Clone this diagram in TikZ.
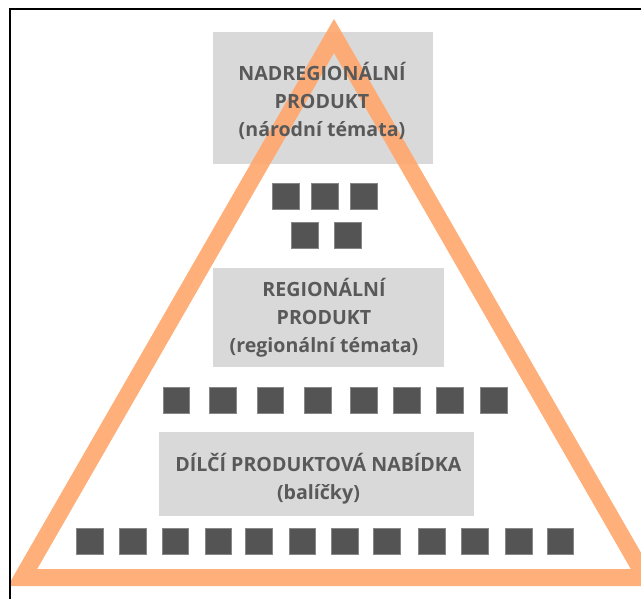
\documentclass[tikz,border=0pt]{standalone}
\usepackage{fontspec}
\setmainfont{Open Sans}
\definecolor{boxgray}{HTML}{D9D9D9}
\definecolor{txtgray}{HTML}{595959}
\definecolor{sqgray}{HTML}{545454}
\definecolor{tri}{HTML}{FFA86F}
\tikzset{
  lvlbox/.style={fill=boxgray, draw=none},
  lvltext/.style={text=txtgray, font=\bfseries\fontsize{19.6}{28}\selectfont, align=center, inner sep=0pt},
  sq/.style={fill=sqgray, draw=sqgray!70!white, line width=0.4pt, minimum size=26.5pt, inner sep=0pt, anchor=north west},
}
\begin{document}
\begin{tikzpicture}[x=1pt,y=-1pt]
\useasboundingbox (0,0) rectangle (641,599);
% frame
\draw[line width=2pt, black] (10,599) -- (10,9) -- (641,9);
% gray boxes
\fill[lvlbox] (213,32) rectangle (433,164);
\fill[lvlbox] (213,268) rectangle (444,367);
\fill[lvlbox] (159,432) rectangle (474,516);
% triangle
\begin{scope}
\clip (11,10) rectangle (641,599);
\draw[tri, line width=17pt, line join=miter, opacity=0.92] (22.5,577.5) -- (334,36) -- (645.5,577.5) -- cycle;
\end{scope}
% texts
\node[lvltext] (t1) at (322,100.5) {NADREGIONÁLNÍ\\PRODUKT\\(národní témata)};
\node[lvltext] (t2) at (324,317.5) {REGIONÁLNÍ\\PRODUKT\\(regionální témata)};
\node[lvltext] (t3) at (318.5,478.5) {DÍLČÍ PRODUKTOVÁ NABÍDKA\\(balíčky)};
% squares top
\foreach \x [count=\i] in {272.3,311,350} \node[sq] (a\i) at (\x,182.7) {};
\foreach \x [count=\i] in {291,334.3} \node[sq] (b\i) at (\x,221.7) {};
% squares middle
\foreach \x [count=\i] in {162.7,209.3,256.7,304,350,393.3,436,480} \node[sq] (c\i) at (\x,386.5) {};
% squares bottom
\foreach \x [count=\i] in {76,119.3,161.7,204.7,245.3,288.7,331,373.3,418.3,461.3,505,546.7} \node[sq] (d\i) at (\x,527.5) {};
\end{tikzpicture}
\end{document}
